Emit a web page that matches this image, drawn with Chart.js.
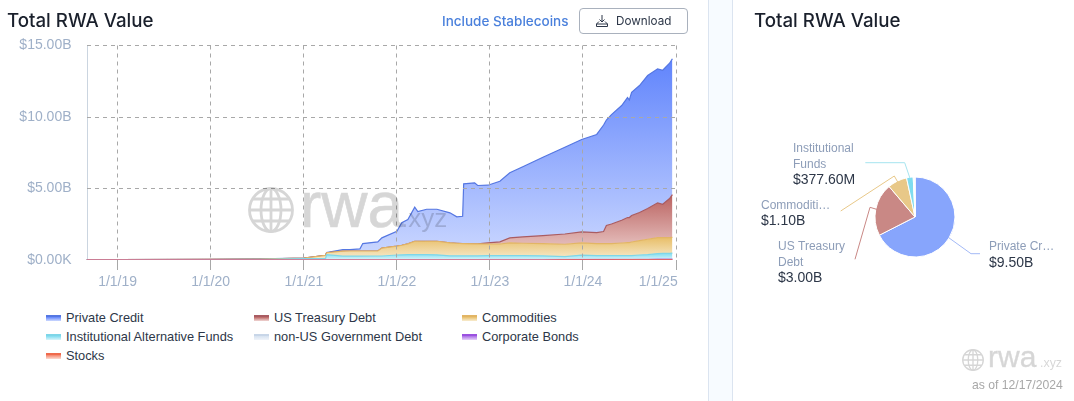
<!DOCTYPE html>
<html lang="en">
<head>
  <meta charset="UTF-8" />
  <title>Total RWA Value</title>
  <script src="https://cdn.jsdelivr.net/npm/chart.js"></script>
  <style>
    html, body { margin: 0; padding: 0; background: #fff; }
    body { width: 1074px; height: 401px; position: relative; overflow: hidden; font-family: "Liberation Sans", sans-serif; }
    #gutter { position: absolute; left: 708px; top: 0; width: 25px; height: 401px; background: #f7fbff; border-left: 1px solid #dbe4f0; border-right: 1px solid #dbe4f0; box-sizing: border-box; }
    h2 { position: absolute; margin: 0; top: 9px; font: 500 18.7px/24px Inter, sans-serif; color: #1a202c; }
    #toggle { position: absolute; left: 442px; top: 12px; font: 500 13.5px/18px Inter, sans-serif; color: #4a80dc; }
    #download { position: absolute; left: 579px; top: 8px; width: 109px; height: 25.5px; box-sizing: border-box; border: 1px solid #a9b1bd; border-radius: 4px; background: #fff; font: 400 11.7px/24px Inter, sans-serif; color: #2d3748; padding-left: 36px; }
    #download svg { position: absolute; left: 15px; top: 5px; }
    #lineChart { position: absolute; left: 0; top: 0; }
    #pieChart { position: absolute; left: 734px; top: 0; }
    .mark { position: absolute; color: #000; opacity: .16; font-family: "Liberation Sans", sans-serif; white-space: nowrap; }
    .mark svg { position: absolute; }
    #legend { position: absolute; left: 46px; top: 308px; display: grid; grid-template-columns: 208px 208px 208px; grid-auto-rows: 19px; font-size: 12.8px; line-height: 19px; color: #2d3748; }
    #legend div { position: relative; padding-left: 20px; white-space: nowrap; }
    #legend i { position: absolute; left: 0; top: 7px; width: 15px; height: 6px; border-top: 2px solid; box-sizing: border-box; }
    #asof { position: absolute; left: 972px; top: 378px; font-size: 12.2px; line-height: 14px; color: #a8a8a8; }
  </style>
</head>
<body>
  <div id="gutter"></div>
  <canvas id="lineChart" width="708" height="300"></canvas>
  <canvas id="pieChart" width="340" height="401"></canvas>

  <h2 style="left:7px">Total RWA Value</h2>
  <h2 style="left:754px">Total RWA Value</h2>
  <div id="toggle">Include Stablecoins</div>
  <div id="download">
    <svg width="14" height="14" viewBox="0 0 14 14" fill="none" stroke="#2d3748" stroke-width="1">
      <path d="M7 1v7M4.5 5.5 7 8l2.500-2.500M4 7.500 1.500 10v2.500h11V10L10 7.500M1.500 10h11"/>
    </svg>Download</div>

  <div class="mark" style="left:248px;top:187px;width:200px;height:46px">
    <svg width="46" height="46" viewBox="0 0 46 46" fill="none" stroke="currentColor" stroke-width="2.800">
      <circle cx="23" cy="23" r="21.500"/><ellipse cx="23" cy="23" rx="10" ry="21.500"/>
      <path d="M23 1.500v43M1.500 23h43M4.500 12h37M4.500 34h37"/>
    </svg>
    <span style="position:absolute;left:52px;top:-23.500px;font-size:64px;line-height:82px;-webkit-text-stroke:.7px #000">rwa</span>
    <span style="position:absolute;left:153px;top:14px;font-size:26px;line-height:34px">.xyz</span>
  </div>
  <div class="mark" style="left:962px;top:349px;width:110px;height:24px">
    <svg width="22" height="22" viewBox="0 0 46 46" fill="none" stroke="currentColor" stroke-width="2.800">
      <circle cx="23" cy="23" r="21.500"/><ellipse cx="23" cy="23" rx="10" ry="21.500"/>
      <path d="M23 1.500v43M1.500 23h43M4.500 12h37M4.500 34h37"/>
    </svg>
    <span style="position:absolute;left:26px;top:-12.400px;font-size:30px;line-height:40px;-webkit-text-stroke:.4px #000">rwa</span>
    <span style="position:absolute;left:78px;top:5.700px;font-size:12.400px;line-height:16px">.xyz</span>
  </div>
  <div id="asof">as of 12/17/2024</div>

  <div id="legend"></div>

  <script>
    const dates = [
      '2018-09-01', '2019-01-01', '2020-01-01', '2020-07-12', '2021-01-01', '2021-03-27', '2021-03-31', '2021-06-03',
      '2021-07-01', '2021-08-09', '2021-08-20', '2021-10-18', '2021-11-03', '2022-01-01', '2022-01-20', '2022-02-13',
      '2022-03-12', '2022-03-24', '2022-04-28', '2022-06-07', '2022-07-28', '2022-08-24', '2022-09-16', '2022-09-20',
      '2022-11-02', '2022-11-14', '2022-12-24', '2023-02-09', '2023-03-20', '2023-05-10', '2023-07-28', '2023-10-22',
      '2023-12-27', '2024-02-24', '2024-03-22', '2024-04-02', '2024-04-22', '2024-06-01', '2024-06-24', '2024-07-01',
      '2024-07-10', '2024-08-10', '2024-09-11', '2024-10-20', '2024-11-09', '2024-12-06', '2024-12-17'
    ];

    // all values in $B
    const privateCredit = [
      .005, .005, .005, .01, .01, .01, .01, .11, .10, .15, .52, .64, .72, 1.04, 1.57, 1.70,
      2.38, 2.08, 2.25, 2.24, 2.10, 1.85, 1.91, 4.18, 4.27, 4.08, 4.03, 4.24, 4.55, 4.90, 5.48, 6.07,
      6.46, 6.86, 7.45, 7.38, 7.65, 8.02, 8.39, 8.22, 8.62, 8.88, 9.30, 9.37, 9.37, 9.46, 9.50
    ];
    const treasuryDebt = [
      0, 0, 0, 0, 0, 0, 0, 0, 0, 0, 0, 0, 0, 0, 0, 0,
      0, 0, 0, 0, 0, 0, 0, 0, 0, 0, .08, .15, .35, .45, .56, .72,
      .77, .77, .84, 1.26, 1.37, 1.59, 1.75, 1.75, 1.85, 1.96, 2.15, 2.43, 2.34, 2.74, 3.00
    ];
    const commodities = [
      .005, .01, .015, .02, .04, .22, .13, .35, .36, .36, .36, .35, .55, .62, .67, .76,
      .93, .93, .93, .95, .91, .88, .86, .86, .84, .84, .82, .81, .89, .86, .86, .86,
      .86, .84, .84, .84, .84, .88, .91, .91, .95, 1.01, 1.07, 1.12, 1.10, 1.09, 1.10
    ];
    const institutionalFunds = [
      .01, .015, .03, .05, .09, .10, .37, .26, .26, .26, .26, .27, .27, .34, .35, .36,
      .37, .37, .36, .35, .27, .27, .27, .27, .26, .26, .26, .26, .26, .26, .24, .175,
      .27, .235, .235, .235, .235, .23, .23, .23, .23, .26, .29, .35, .36, .37, .3776
    ];
    const nonUsDebt = [
      0, 0, 0, 0, 0, 0, .01, .01, .01, .01, .01, .01, .01, .01, .01, .01,
      .01, .01, .01, .01, .02, .02, .02, .02, .03, .03, .04, .05, .05, .05, .05, .05,
      .05, .05, .05, .05, .05, .05, .05, .05, .05, .055, .055, .06, .06, .06, .06
    ];
    const corporateBonds = [
      0, 0, 0, 0, 0, 0, 0, 0, 0, 0, 0, 0, 0, 0, 0, 0,
      0, 0, 0, 0, 0, 0, 0, 0, 0, 0, 0, 0, 0, 0, 0, .01,
      .015, .02, .02, .02, .02, .02, .02, .02, .02, .025, .025, .03, .03, .03, .03
    ];
    const stocks = [
      0, 0, 0, 0, 0, 0, 0, 0, 0, 0, 0, 0, 0, 0, 0, 0,
      0, 0, 0, 0, 0, 0, 0, 0, 0, 0, 0, 0, 0, 0, 0, .005,
      .005, .005, .005, .005, .005, .01, .01, .01, .01, .01, .01, .01, .01, .01, .01
    ];

    const yearTicks = ['2019-01-01', '2020-01-01', '2021-01-01', '2022-01-01', '2023-01-01', '2024-01-01', '2025-01-01'];
    const valueTicks = [0, 5, 10, 15];
    const valueLabels = ['$0.00K', '$5.00B', '$10.00B', '$15.00B'];

    const pieLabels = ['Private Credit', 'US Treasury Debt', 'Commodities', 'Institutional Funds', 'non-US Government Debt', 'Corporate Bonds', 'Stocks'];
    const pieValues = [9.5, 3.0, 1.1, 0.3776, 0.06, 0.03, 0.01];
    const pieColors = ['#87a5fc', '#c98885', '#e8c888', '#7fdcef', '#e4ebf4', '#b98ae8', '#f2a08c'];

    // colours: line, top of fill, bottom of fill
    const styles = {
      'Private Credit': ['#5577e2', 'rgb(96,132,252)', 'rgb(205,217,255)'],
      'US Treasury Debt': ['#a95c62', 'rgb(186,98,96)', 'rgb(240,214,212)'],
      'Commodities': ['#e2b565', 'rgb(232,190,104)', 'rgb(248,236,208)'],
      'Institutional Alternative Funds': ['#7ed6e8', 'rgb(126,220,240)', 'rgb(220,245,250)'],
      'non-US Government Debt': ['#c8d6e8', 'rgb(214,226,240)', 'rgb(240,244,250)'],
      'Corporate Bonds': ['#9b51e0', 'rgb(170,110,230)', 'rgb(230,210,248)'],
      'Stocks': ['#ef6a4c', 'rgb(244,130,105)', 'rgb(252,220,210)']
    };

    // bottom of the stack comes first
    const stackOrder = [
      ['Stocks', stocks],
      ['Corporate Bonds', corporateBonds],
      ['non-US Government Debt', nonUsDebt],
      ['Institutional Alternative Funds', institutionalFunds],
      ['Commodities', commodities],
      ['US Treasury Debt', treasuryDebt],
      ['Private Credit', privateCredit]
    ];
    const legendOrder = ['Private Credit', 'US Treasury Debt', 'Commodities', 'Institutional Alternative Funds', 'non-US Government Debt', 'Corporate Bonds', 'Stocks'];

    const toTime = d => Date.parse(d + 'T00:00:00Z');
    const formatYear = t => {
      const d = new Date(t);
      return `${d.getUTCMonth() + 1}/${d.getUTCDate()}/${String(d.getUTCFullYear()).slice(2)}`;
    };

    // each band fades from its own highest point down to the axis
    function bandGradient(context, top, bottom, index) {
      const chart = context.chart;
      if (!chart.chartArea) return top;
      let peak = 0;
      dates.forEach((_, i) => {
        let sum = 0;
        for (let k = 0; k <= index; k++) sum += stackOrder[k][1][i];
        if (sum > peak) peak = sum;
      });
      const y = chart.scales.y;
      const g = chart.ctx.createLinearGradient(0, y.getPixelForValue(peak), 0, y.getPixelForValue(0));
      g.addColorStop(0, top);
      g.addColorStop(1, bottom);
      return g;
    }

    const datasets = stackOrder.map(([name, values], index) => ({
      label: name,
      data: values.map((v, i) => ({ x: toTime(dates[i]), y: v })),
      borderColor: styles[name][0],
      borderWidth: 1.2,
      pointRadius: 0,
      tension: 0,
      fill: index === 0 ? 'origin' : '-1',
      backgroundColor: ctx => bandGradient(ctx, styles[name][1], styles[name][2], index)
    }));

    // the last year label is pulled inside the canvas edge
    const shiftLastLabel = {
      id: 'shiftLastLabel',
      beforeDraw(chart) {
        const items = chart.scales.x.getLabelItems(chart.chartArea);
        const last = items[items.length - 1];
        if (last && !last.shifted) {
          last.options.translation = [last.options.translation[0] - 18, last.options.translation[1]];
          last.shifted = true;
        }
      }
    };

    // solid value axis on the left of the plot
    const valueAxisLine = {
      id: 'valueAxisLine',
      beforeDatasetsDraw(chart) {
        const { ctx, chartArea } = chart;
        const x = Math.round(chartArea.left) + 0.5;
        ctx.save();
        ctx.strokeStyle = '#cbd5e0';
        ctx.lineWidth = 1;
        ctx.beginPath();
        ctx.moveTo(x, chartArea.top);
        ctx.lineTo(x, chartArea.bottom);
        ctx.stroke();
        ctx.restore();
      }
    };

    const dash = [4, 4];

    new Chart(document.getElementById('lineChart'), {
      type: 'line',
      data: { datasets },
      plugins: [shiftLastLabel, valueAxisLine],
      options: {
        responsive: false,
        animation: false,
        layout: { padding: { top: 45.5, right: 30, left: 0, bottom: 0 } },
        plugins: { legend: { display: false }, tooltip: { enabled: false } },
        scales: {
          x: {
            type: 'linear',
            min: toTime('2018-09-01'),
            max: toTime('2025-01-08'),
            afterBuildTicks: scale => { scale.ticks = yearTicks.map(d => ({ value: toTime(d) })); },
            afterFit: scale => { scale.height = 40; },
            grid: { color: '#a8a8a8', z: 1, tickLength: 10, tickColor: '#a8a8a8', tickBorderDash: [] },
            border: { display: false, dash },
            ticks: {
              color: '#9fb0c8',
              maxRotation: 0,
              autoSkip: false,
              padding: 4,
              font: { family: '"Liberation Sans"', size: 14 },
              callback: v => formatYear(v)
            }
          },
          y: {
            position: 'left',
            stacked: true,
            min: 0,
            max: 15,
            afterBuildTicks: scale => { scale.ticks = valueTicks.map(v => ({ value: v })); },
            afterFit: scale => { scale.width = 86.5; },
            grid: {
              color: c => (c.tick && c.tick.value === 0 ? 'rgba(0,0,0,0)' : '#a8a8a8'),
              z: 1,
              drawTicks: false
            },
            border: { display: false, dash },
            ticks: {
              color: '#9fb0c8',
              padding: 15,
              font: { family: '"Liberation Sans"', size: 14 },
              callback: v => valueLabels[valueTicks.indexOf(v)]
            }
          }
        }
      }
    });

    // legend grid
    const legendBox = document.getElementById('legend');
    legendOrder.forEach(name => {
      const item = document.createElement('div');
      const swatch = document.createElement('i');
      swatch.style.borderTopColor = styles[name][0];
      swatch.style.background = `linear-gradient(${styles[name][1]}, ${styles[name][2]})`;
      item.appendChild(swatch);
      item.appendChild(document.createTextNode(name));
      legendBox.appendChild(item);
    });

    // callouts beside the pie, placed relative to its centre
    const callouts = [
      { slice: 0, color: '#a3b9f6', elbow: [56, 36.7], end: [65, 36.7], at: [74, 33], name: ['Private Cr…'], value: '$9.50B' },
      { slice: 1, color: '#c98885', elbow: [-45, -9.7], end: [-60, 42.3], at: [-137, 33], name: ['US Treasury', 'Debt'], value: '$3.00B' },
      { slice: 2, color: '#e8c888', elbow: [-20.7, -41], end: [-74.3, -6], at: [-154, -8.5], name: ['Commoditi…'], value: '$1.10B' },
      { slice: 3, color: '#a6e4ef', elbow: [-10.3, -54.3], end: [-49.7, -54.3], at: [-122, -65], name: ['Institutional', 'Funds'], value: '$377.60M' }
    ];

    const pieCallouts = {
      id: 'pieCallouts',
      afterDatasetsDraw(chart) {
        const ctx = chart.ctx;
        const arcs = chart.getDatasetMeta(0).data;
        const { x: cx, y: cy } = arcs[0];
        ctx.save();
        callouts.forEach(c => {
          const arc = arcs[c.slice];
          const mid = (arc.startAngle + arc.endAngle) / 2;
          ctx.beginPath();
          ctx.moveTo(cx + Math.cos(mid) * (arc.outerRadius - 1), cy + Math.sin(mid) * (arc.outerRadius - 1));
          ctx.lineTo(cx + c.elbow[0], cy + c.elbow[1]);
          ctx.lineTo(cx + c.end[0], cy + c.end[1]);
          ctx.strokeStyle = c.color;
          ctx.lineWidth = 1;
          ctx.stroke();

          ctx.textAlign = 'left';
          ctx.textBaseline = 'alphabetic';
          let y = cy + c.at[1];
          ctx.fillStyle = '#8d9db8';
          ctx.font = '12px "Liberation Sans"';
          c.name.forEach(line => {
            ctx.fillText(line, cx + c.at[0], y);
            y += 15.500;
          });
          ctx.fillStyle = '#2d3748';
          ctx.font = '14px "Liberation Sans"';
          ctx.fillText(c.value, cx + c.at[0], y + 1);
        });
        ctx.restore();
      }
    };

    new Chart(document.getElementById('pieChart'), {
      type: 'pie',
      data: {
        labels: pieLabels,
        datasets: [{ data: pieValues, backgroundColor: pieColors, borderColor: '#fff', borderWidth: 1 }]
      },
      plugins: [pieCallouts],
      options: {
        responsive: false,
        animation: false,
        radius: 40,
        layout: { padding: { left: 22, right: 0, top: 33, bottom: 0 } },
        plugins: { legend: { display: false }, tooltip: { enabled: false } }
      }
    });
  </script>
</body>
</html>
